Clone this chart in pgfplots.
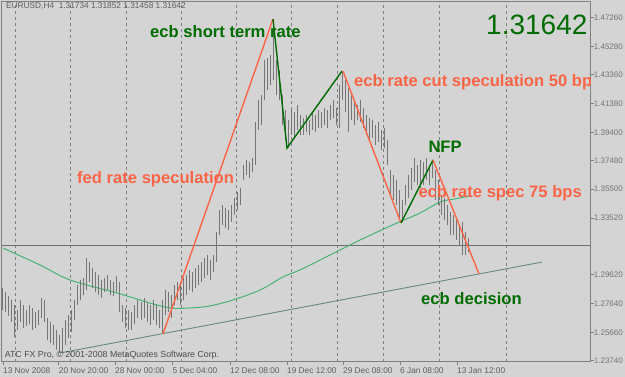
\documentclass[border=0pt]{standalone}
\usepackage{fontspec}
\setmainfont{Liberation Sans}
\usepackage{pgfplots}
\pgfplotsset{compat=1.18}
\usepackage{pgfplotstable}
\definecolor{bg}{RGB}{212,212,212}
\definecolor{framec}{RGB}{128,128,128}
\definecolor{barc}{RGB}{118,118,118}
\definecolor{tomatoc}{RGB}{252,100,70}
\definecolor{dgreen}{RGB}{0,108,0}
\definecolor{mac}{RGB}{70,180,115}
\definecolor{trendc}{RGB}{100,135,135}
\definecolor{labc}{RGB}{95,95,95}
\definecolor{ylabc}{RGB}{115,115,115}
\definecolor{pricebox}{RGB}{125,125,125}
\definecolor{pline}{RGB}{110,110,110}

% H4 bars: x position, low, high
\pgfplotstableread{
x lo hi
3 1.2721 1.2872
6 1.2708 1.2845
9 1.2680 1.2817
12 1.2639 1.2790
15 1.2536 1.2756
18 1.2584 1.2721
21 1.2639 1.2790
24 1.2598 1.2756
27 1.2612 1.2721
30 1.2625 1.2756
33 1.2584 1.2735
36 1.2598 1.2708
39 1.2618 1.2721
42 1.2666 1.2804
45 1.2639 1.2790
48 1.2515 1.2666
51 1.2495 1.2639
54 1.2481 1.2618
57 1.2447 1.2584
60 1.2426 1.2550
63 1.2433 1.2598
66 1.2481 1.2653
69 1.2529 1.2687
72 1.2570 1.2721
75 1.2653 1.2790
78 1.2756 1.2893
81 1.2790 1.2927
84 1.2824 1.2941
87 1.2858 1.3078
90 1.2913 1.3050
93 1.2872 1.3009
96 1.2845 1.2982
99 1.2824 1.2961
102 1.2804 1.2927
105 1.2845 1.2941
108 1.2858 1.2961
111 1.2824 1.2927
114 1.2817 1.2913
117 1.2845 1.2954
120 1.2708 1.2913
123 1.2639 1.2756
126 1.2598 1.2735
129 1.2584 1.2721
132 1.2584 1.2708
135 1.2625 1.2756
138 1.2666 1.2790
141 1.2653 1.2776
144 1.2666 1.2804
147 1.2639 1.2769
150 1.2618 1.2756
153 1.2653 1.2790
156 1.2618 1.2756
159 1.2598 1.2721
162 1.2564 1.2790
165 1.2687 1.2858
168 1.2708 1.2845
171 1.2666 1.2824
174 1.2756 1.2893
177 1.2790 1.2913
180 1.2756 1.2893
183 1.2790 1.2941
186 1.2824 1.2961
189 1.2858 1.2996
192 1.2845 1.2982
195 1.2872 1.3009
198 1.2893 1.3030
201 1.2913 1.3050
204 1.2941 1.3078
207 1.2961 1.3098
210 1.2927 1.3064
213 1.2982 1.3098
216 1.3050 1.3256
219 1.3236 1.3407
222 1.3304 1.3441
225 1.3284 1.3421
228 1.3270 1.3407
231 1.3325 1.3441
234 1.3373 1.3489
237 1.3407 1.3530
240 1.3441 1.3558
243 1.3613 1.3716
246 1.3647 1.3750
249 1.3626 1.3736
252 1.3668 1.3764
255 1.3716 1.4011
258 1.3956 1.4162
261 1.3990 1.4196
264 1.4162 1.4436
267 1.4230 1.4450
270 1.4264 1.4470
273 1.4299 1.4710
276 1.4196 1.4436
279 1.4162 1.4367
282 1.3990 1.4196
285 1.3887 1.4093
288 1.3832 1.4024
291 1.3921 1.4107
294 1.3901 1.4079
297 1.3956 1.4127
300 1.3921 1.4059
303 1.3921 1.4038
306 1.3942 1.4059
309 1.3921 1.4024
312 1.3956 1.4079
315 1.3942 1.4059
318 1.3970 1.4093
321 1.3970 1.4079
324 1.3990 1.4107
327 1.3970 1.4093
330 1.4024 1.4127
333 1.4038 1.4162
336 1.3990 1.4107
339 1.3970 1.4264
342 1.4162 1.4354
345 1.4079 1.4299
348 1.3942 1.4244
351 1.4024 1.4196
354 1.3990 1.4162
357 1.4024 1.4127
360 1.4011 1.4162
363 1.3970 1.4107
366 1.3921 1.4059
369 1.3887 1.4038
372 1.3901 1.4024
375 1.3853 1.3990
378 1.3873 1.4011
381 1.3819 1.3956
384 1.3832 1.3970
387 1.3716 1.3887
390 1.3510 1.3681
393 1.3476 1.3647
396 1.3441 1.3613
399 1.3352 1.3544
402 1.3325 1.3476
405 1.3441 1.3578
408 1.3489 1.3647
411 1.3544 1.3695
414 1.3599 1.3764
417 1.3578 1.3716
420 1.3558 1.3750
423 1.3578 1.3736
426 1.3613 1.3764
429 1.3578 1.3716
432 1.3626 1.3750
435 1.3476 1.3681
438 1.3441 1.3613
441 1.3373 1.3510
444 1.3338 1.3489
447 1.3304 1.3441
450 1.3236 1.3393
453 1.3236 1.3373
456 1.3201 1.3338
459 1.3167 1.3304
462 1.3098 1.3325
465 1.3098 1.3256
468 1.3119 1.3215
}\bars

\begin{document}
\begin{tikzpicture}[x=1pt,y=1pt]
\fill[bg] (0,0) rectangle (625,377);
\begin{axis}[
  at={(1.7pt,15.3pt)}, anchor=south west, scale only axis,
  width=589pt, height=360pt,
  xmin=1.7, xmax=590.7, ymin=1.23666, ymax=1.48357,
  axis background/.style={fill=bg},
  axis line style={framec, line width=0.9pt},
  /pgf/number format/assume math mode=true,
  xtick={3,58.7,115,172.3,230,287,343,400,457},
  xticklabels={13 Nov 2008,20 Nov 20:00,28 Nov 00:00,5 Dec 04:00,12 Dec 08:00,19 Dec 12:00,29 Dec 08:00,6 Jan 08:00,13 Jan 12:00},
  xtick pos=left, ytick pos=right,
  tick align=outside, major tick length=3pt,
  tick style={framec, line width=0.8pt},
  xticklabel style={anchor=north west, inner sep=0pt, font=\fontsize{8.3}{9}\selectfont, text=labc, yshift=-3pt},
  ytick={1.2374,1.2566,1.2764,1.2962,1.3352,1.3550,1.3748,1.3940,1.4138,1.4336,1.4528,1.4726},
  yticklabels={1.23740,1.25660,1.27640,1.29620,1.33520,1.35500,1.37480,1.39400,1.41380,1.43360,1.45280,1.47260},
  yticklabel style={anchor=west, inner sep=0pt, font=\fontsize{8}{9}\selectfont, text=ylabc},
  extra x ticks={15,70.5,126,181,236,291.5,337.5,383.3,439,506.5},
  extra x tick labels={},
  extra x tick style={grid=major, major tick length=0pt},
  major grid style={framec, line width=0.8pt, dash pattern=on 3pt off 3pt},
]
% current price line
\addplot[pline, line width=0.9pt] coordinates {(1.7,1.31642) (590.7,1.31642)};
% moving average
\addplot[mac, line width=1pt, smooth] coordinates {
(3,1.3146) (40,1.3030) (70,1.2927) (117,1.2838) (150,1.2769) (170,1.2735)
(190,1.2735) (210,1.2749) (233,1.2790) (260,1.2858) (283,1.2948) (300,1.2996)
(330,1.3098) (360,1.3201) (397,1.3318) (420,1.3386) (440,1.3462) (455,1.3483) (470,1.3503)};
% price bars
\addplot[barc, line width=1pt, quiver={u=0, v=\thisrow{hi}-\thisrow{lo}}] table[x=x, y=lo] {\bars};
% trend line
\addplot[trendc, line width=0.9pt] coordinates {(60,1.2426) (542,1.3050)};
% swing lines
\addplot[tomatoc, line width=1.4pt] coordinates {(163,1.2557) (273,1.4717)};
\addplot[dgreen, line width=1.4pt] coordinates {(273,1.4717) (287,1.3832) (342,1.4360)};
\addplot[tomatoc, line width=1.4pt] coordinates {(343,1.4360) (401,1.3318)};
\addplot[dgreen, line width=1.4pt] coordinates {(401,1.3318) (433,1.3750)};
\addplot[tomatoc, line width=1.4pt] coordinates {(433,1.3750) (479,1.2968)};
% annotations
\node[anchor=base west, inner sep=0pt, text=dgreen, font=\fontsize{16.6}{18}\selectfont\bfseries] at (axis cs:150,1.45916) {ecb short term rate};
\node[anchor=base west, inner sep=0pt, text=tomatoc, font=\fontsize{16.6}{18}\selectfont\bfseries] at (axis cs:77,1.35902) {fed rate speculation};
\node[anchor=base west, inner sep=0pt, text=tomatoc, font=\fontsize{16.6}{18}\selectfont\bfseries] at (axis cs:354,1.42527) {ecb rate cut speculation 50 bp};
\node[anchor=base west, inner sep=0pt, text=dgreen, font=\fontsize{16.6}{18}\selectfont\bfseries] at (axis cs:428.3,1.38001) {NFP};
\node[anchor=base west, inner sep=0pt, text=tomatoc, font=\fontsize{16.6}{18}\selectfont\bfseries] at (axis cs:418.3,1.34942) {ecb rate spec 75 bps};
\node[anchor=base west, inner sep=0pt, text=dgreen, font=\fontsize{16.6}{18}\selectfont\bfseries] at (axis cs:421,1.27555) {ecb decision};
\node[anchor=base west, inner sep=0pt, text=dgreen, font=\fontsize{28}{30}\selectfont] at (axis cs:486,1.46073) {1.31642};
\node[anchor=base west, inner sep=0pt, text=labc, font=\fontsize{8.3}{9}\selectfont] at (axis cs:6,1.47857) {EURUSD,H4\ \ 1.31734 1.31852 1.31458 1.31642};
\node[anchor=base west, inner sep=0pt, text=labc!80!black, font=\fontsize{8.8}{9}\selectfont] at (axis cs:4.7,1.23968) {ATC FX Pro, \textcopyright\ 2001-2008 MetaQuotes Software Corp.};
\node[anchor=west, fill=pricebox, text=white, inner xsep=1.3pt, inner ysep=1.6pt, xshift=2.3pt, font=\fontsize{8}{9}\selectfont] at (axis cs:590.7,1.31642) {1.31642};
\end{axis}
\pgfresetboundingbox
\path (0,0) rectangle (625,377);
\end{tikzpicture}
\end{document}
